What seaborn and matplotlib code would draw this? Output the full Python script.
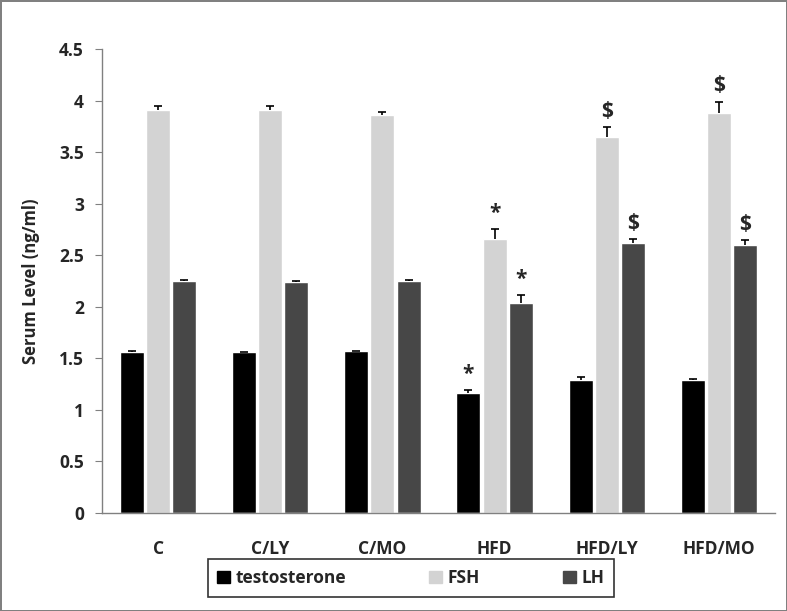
import numpy as np
import pandas as pd
import matplotlib
matplotlib.use("Agg")
import matplotlib.pyplot as plt
import seaborn as sns

# data
groups = ["C", "C/LY", "C/MO", "HFD", "HFD/LY", "HFD/MO"]
hormones = ["testosterone", "FSH", "LH"]

testosterone = [1.56, 1.56, 1.57, 1.16, 1.29, 1.29]
fsh = [3.91, 3.91, 3.86, 2.66, 3.65, 3.88]
lh = [2.25, 2.24, 2.25, 2.04, 2.62, 2.60]

testosterone_err = [0.01, 0.005, 0.005, 0.035, 0.03, 0.01]
fsh_err = [0.04, 0.04, 0.03, 0.09, 0.09, 0.11]
lh_err = [0.01, 0.01, 0.01, 0.07, 0.04, 0.05]

# significance marks above each bar ("" = none)
testosterone_marks = ["", "", "", "*", "", ""]
fsh_marks = ["", "", "", "*", "$", "$"]
lh_marks = ["", "", "", "*", "$", "$"]

colors = ["#000000", "#d3d3d3", "#474747"]

df = pd.DataFrame({
    "group": groups * 3,
    "hormone": np.repeat(hormones, len(groups)),
    "value": testosterone + fsh + lh,
})
errs = [testosterone_err, fsh_err, lh_err]
marks = [testosterone_marks, fsh_marks, lh_marks]
vals = [testosterone, fsh, lh]

sns.set_style("white")
plt.rcParams["font.family"] = ["Open Sans", "DejaVu Sans"]
plt.rcParams["font.weight"] = "bold"

fig = plt.figure(figsize=(7.87, 6.11), dpi=100, edgecolor="#808080", linewidth=2)
ax = fig.add_axes([0.1296, 0.1604, 0.8552, 0.7594])

sns.barplot(data=df, x="group", y="value", hue="hormone", order=groups,
            hue_order=hormones, palette=colors, width=0.7, gap=0.08,
            saturation=1, ax=ax, legend=True)

for container, err, mk, v in zip(ax.containers, errs, marks, vals):
    xs = [p.get_x() + p.get_width() / 2 for p in container.patches]
    _, caps, _ = ax.errorbar(xs, v, yerr=[np.zeros(len(err)), err], fmt="none",
                             ecolor="black", elinewidth=1.2, capsize=3, capthick=1.2)
    caps[0].set_visible(False)  # only the upper cap, like the original
    for x, y, e, m in zip(xs, v, err, mk):
        if m:
            ax.text(x, y + e + 0.05, m, ha="center", va="bottom",
                    fontsize=15, fontweight="bold")

ax.set_ylim(0, 4.5)
ax.set_xlim(-0.5, 5.5)
ax.set_yticks(np.arange(0, 4.51, 0.5))
ax.set_yticklabels([f"{t:g}" for t in np.arange(0, 4.51, 0.5)])
ax.set_xlabel("")
ax.set_ylabel("Serum Level (ng/ml)", fontsize=12, fontweight="bold", labelpad=14)
ax.tick_params(axis="y", labelsize=12.5, left=True, length=5, color="#808080", pad=8)
ax.tick_params(axis="x", labelsize=12.5, bottom=False, pad=16)
for lbl in ax.get_xticklabels() + ax.get_yticklabels():
    lbl.set_fontweight("bold")

sns.despine(ax=ax)
for side in ["left", "bottom"]:
    ax.spines[side].set_color("#808080")
    ax.spines[side].set_linewidth(1)

ax.legend_.remove()
handles = [plt.Rectangle((0, 0), 1, 1, color=c) for c in colors]
leg = fig.legend(handles, hormones, loc="center", bbox_to_anchor=(0.522, 0.054),
                 ncol=3, frameon=True, fancybox=False, edgecolor="black",
                 handlelength=0.75, handleheight=0.75, handletextpad=0.3,
                 columnspacing=4.8, borderpad=0.55, borderaxespad=0,
                 prop={"size": 12.5, "weight": "bold"})
leg.get_frame().set_linewidth(1.2)

fig.savefig("out.png", dpi=100, edgecolor=fig.get_edgecolor())
